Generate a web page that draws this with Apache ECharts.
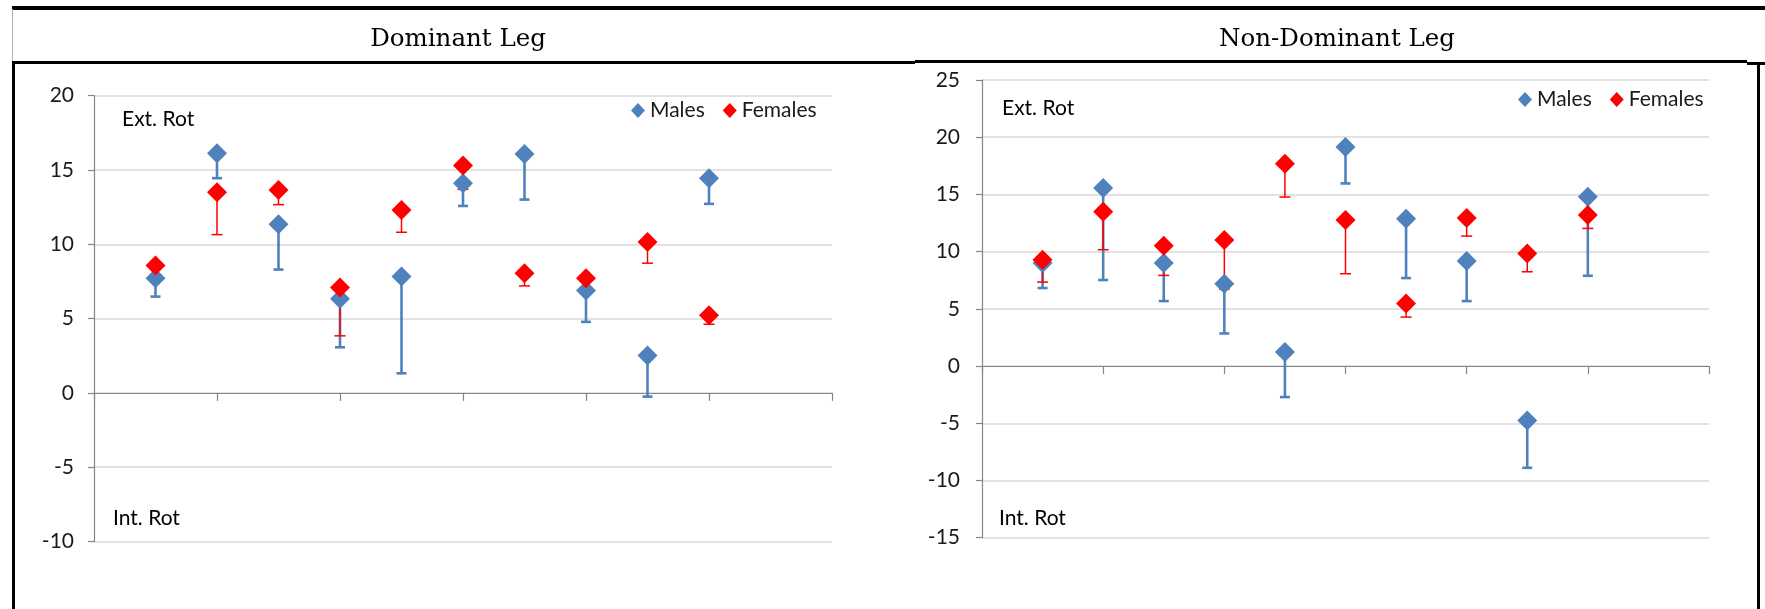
<!DOCTYPE html>
<html>
<head>
<meta charset="utf-8">
<script src="https://cdn.jsdelivr.net/npm/echarts@6/dist/echarts.min.js"></script>
<style>
  html, body { margin: 0; padding: 0; background: #fff; }
  #wrap { position: relative; width: 1765px; height: 609px; overflow: hidden; background: #fff; }
  #chart { position: absolute; left: 0; top: 0; width: 1765px; height: 609px; }
  .ln { position: absolute; background: #000; }
</style>
</head>
<body>
<div id="wrap">
  <div id="chart"></div>
  <div class="ln" style="left:12px;top:6px;width:1753px;height:3.5px;"></div>
  <div class="ln" style="left:12px;top:9px;width:1px;height:52px;background:#b0b0b0;"></div>
  <div class="ln" style="left:12px;top:61px;width:903px;height:3.3px;"></div>
  <div class="ln" style="left:915px;top:60.3px;width:832px;height:3px;"></div>
  <div class="ln" style="left:1747px;top:62px;width:18px;height:2.5px;"></div>
  <div class="ln" style="left:12px;top:61px;width:3px;height:548px;"></div>
  <div class="ln" style="left:1757px;top:62px;width:2.5px;height:547px;"></div>
</div>
<script>
// ---- data ----
const xPositions = [1, 2, 3, 4, 5, 6, 7, 8, 9, 10];

// Dominant Leg
const malesDom      = [7.72, 16.13, 11.35, 6.33, 7.83, 14.11, 16.08, 6.89, 2.51, 14.45];
const malesDomLow   = [6.48, 14.45, 8.30, 3.07, 1.32, 12.58, 13.01, 4.78, -0.25, 12.72];
const femalesDom    = [8.57, 13.50, 13.66, 7.09, 12.31, 15.30, 8.05, 7.72, 10.16, 5.23];
const femalesDomLow = [7.60, 10.65, 12.67, 3.84, 10.81, 13.70, 7.20, 7.10, 8.73, 4.62];

// Non-Dominant Leg
const malesNd      = [9.00, 15.56, 9.00, 7.19, 1.22, 19.14, 12.88, 9.18, -4.75, 14.80];
const malesNdLow   = [6.82, 7.52, 5.68, 2.85, -2.71, 15.96, 7.69, 5.68, -8.89, 7.89];
const femalesNd    = [9.29, 13.49, 10.52, 11.01, 17.68, 12.76, 5.47, 12.93, 9.84, 13.20];
const femalesNdLow = [7.34, 10.17, 7.92, 6.73, 14.77, 8.07, 4.28, 11.36, 8.24, 12.03];

const panelTitles = ['Dominant Leg', 'Non-Dominant Leg'];
const seriesNames = ['Males', 'Females'];
const topLabel = 'Ext. Rot';
const bottomLabel = 'Int. Rot';
const yRanges = [[-10, 20], [-15, 25]];

// ---- styles ----
const BLUE = '#4F81BD';
const RED = '#FF0000';
const FONT = 'Lato, "Open Sans", sans-serif';

function pts(vals) { return xPositions.map((x, i) => [x, vals[i]]); }
function bars(vals, lows) { return xPositions.map((x, i) => [x, vals[i], lows[i]]); }

function errSeries(idx, data, color, lw, cap) {
  return {
    type: 'custom', xAxisIndex: idx, yAxisIndex: idx, z: 2, silent: true,
    data: data,
    renderItem: function (params, api) {
      const top = api.coord([api.value(0), api.value(1)]);
      const bot = api.coord([api.value(0), api.value(2)]);
      const st = { stroke: color, lineWidth: lw };
      return {
        type: 'group',
        children: [
          { type: 'line', shape: { x1: top[0], y1: top[1], x2: bot[0], y2: bot[1] }, style: st },
          { type: 'line', shape: { x1: bot[0] - cap / 2, y1: bot[1], x2: bot[0] + cap / 2, y2: bot[1] }, style: st }
        ]
      };
    }
  };
}
function dotSeries(idx, name, data, color, z) {
  return {
    type: 'scatter', name: name, xAxisIndex: idx, yAxisIndex: idx, z: z,
    symbol: 'diamond', symbolSize: 20, data: data,
    itemStyle: { color: color, opacity: 1 }
  };
}

const grids = [
  { left: 94, top: 95.7, width: 738, height: 445.8 },
  { left: 982, top: 80, width: 727, height: 457.7 }
];

const xAxes = grids.map((g, i) => ({
  type: 'value', gridIndex: i, min: 0, max: 12, interval: 2,
  axisLine: { show: true, onZero: true, lineStyle: { color: '#868686', width: 1.2 } },
  axisTick: { show: true, inside: false, length: 8, lineStyle: { color: '#868686', width: 1.2 } },
  axisLabel: { show: false },
  splitLine: { show: false }
}));
const yAxes = grids.map((g, i) => ({
  type: 'value', gridIndex: i, min: yRanges[i][0], max: yRanges[i][1], interval: 5,
  axisLine: { show: true, lineStyle: { color: '#868686', width: 1.2 } },
  axisTick: { show: true, inside: false, length: 6, lineStyle: { color: '#868686', width: 1.2 } },
  axisLabel: { color: '#1a1a1a', fontFamily: FONT, fontSize: 21, margin: i === 0 ? 20 : 22 },
  splitLine: { show: true, lineStyle: { color: '#d9d9d9', width: 1.5 } }
}));

const chart = echarts.init(document.getElementById('chart'), null, { renderer: 'canvas' });
chart.setOption({
  animation: false,
  backgroundColor: 'transparent',
  title: [
    { text: panelTitles[0], left: 453, top: 35, textAlign: 'center', textVerticalAlign: 'middle',
      textStyle: { fontFamily: '"DejaVu Serif", serif', fontWeight: 'normal', fontSize: 24.5, color: '#000' } },
    { text: panelTitles[1], left: 1332, top: 35, textAlign: 'center', textVerticalAlign: 'middle',
      textStyle: { fontFamily: '"DejaVu Serif", serif', fontWeight: 'normal', fontSize: 24.5, color: '#000' } }
  ],
  grid: grids,
  xAxis: xAxes,
  yAxis: yAxes,
  legend: [
    { data: seriesNames, left: 626, top: 95, icon: 'diamond', itemWidth: 14, itemHeight: 15, itemGap: 18,
      textStyle: { fontFamily: FONT, fontSize: 21, color: '#1a1a1a' } },
    { data: seriesNames, left: 1513, top: 84, icon: 'diamond', itemWidth: 14, itemHeight: 15, itemGap: 18,
      textStyle: { fontFamily: FONT, fontSize: 21, color: '#1a1a1a' } }
  ],
  graphic: [
    { type: 'text', left: 122, top: 109, style: { text: topLabel, font: '21px ' + FONT, fill: '#000' } },
    { type: 'text', left: 113, top: 508, style: { text: bottomLabel, font: '21px ' + FONT, fill: '#000' } },
    { type: 'text', left: 1002, top: 98, style: { text: topLabel, font: '21px ' + FONT, fill: '#000' } },
    { type: 'text', left: 999, top: 508, style: { text: bottomLabel, font: '21px ' + FONT, fill: '#000' } }
  ],
  series: [
    errSeries(0, bars(malesDom, malesDomLow), BLUE, 2.6, 10),
    errSeries(0, bars(femalesDom, femalesDomLow), RED, 1.5, 11),
    dotSeries(0, seriesNames[0], pts(malesDom), BLUE, 3),
    dotSeries(0, seriesNames[1], pts(femalesDom), RED, 4),
    errSeries(1, bars(malesNd, malesNdLow), BLUE, 2.6, 10),
    errSeries(1, bars(femalesNd, femalesNdLow), RED, 1.5, 11),
    dotSeries(1, seriesNames[0], pts(malesNd), BLUE, 3),
    dotSeries(1, seriesNames[1], pts(femalesNd), RED, 4)
  ]
});
</script>
</body>
</html>
